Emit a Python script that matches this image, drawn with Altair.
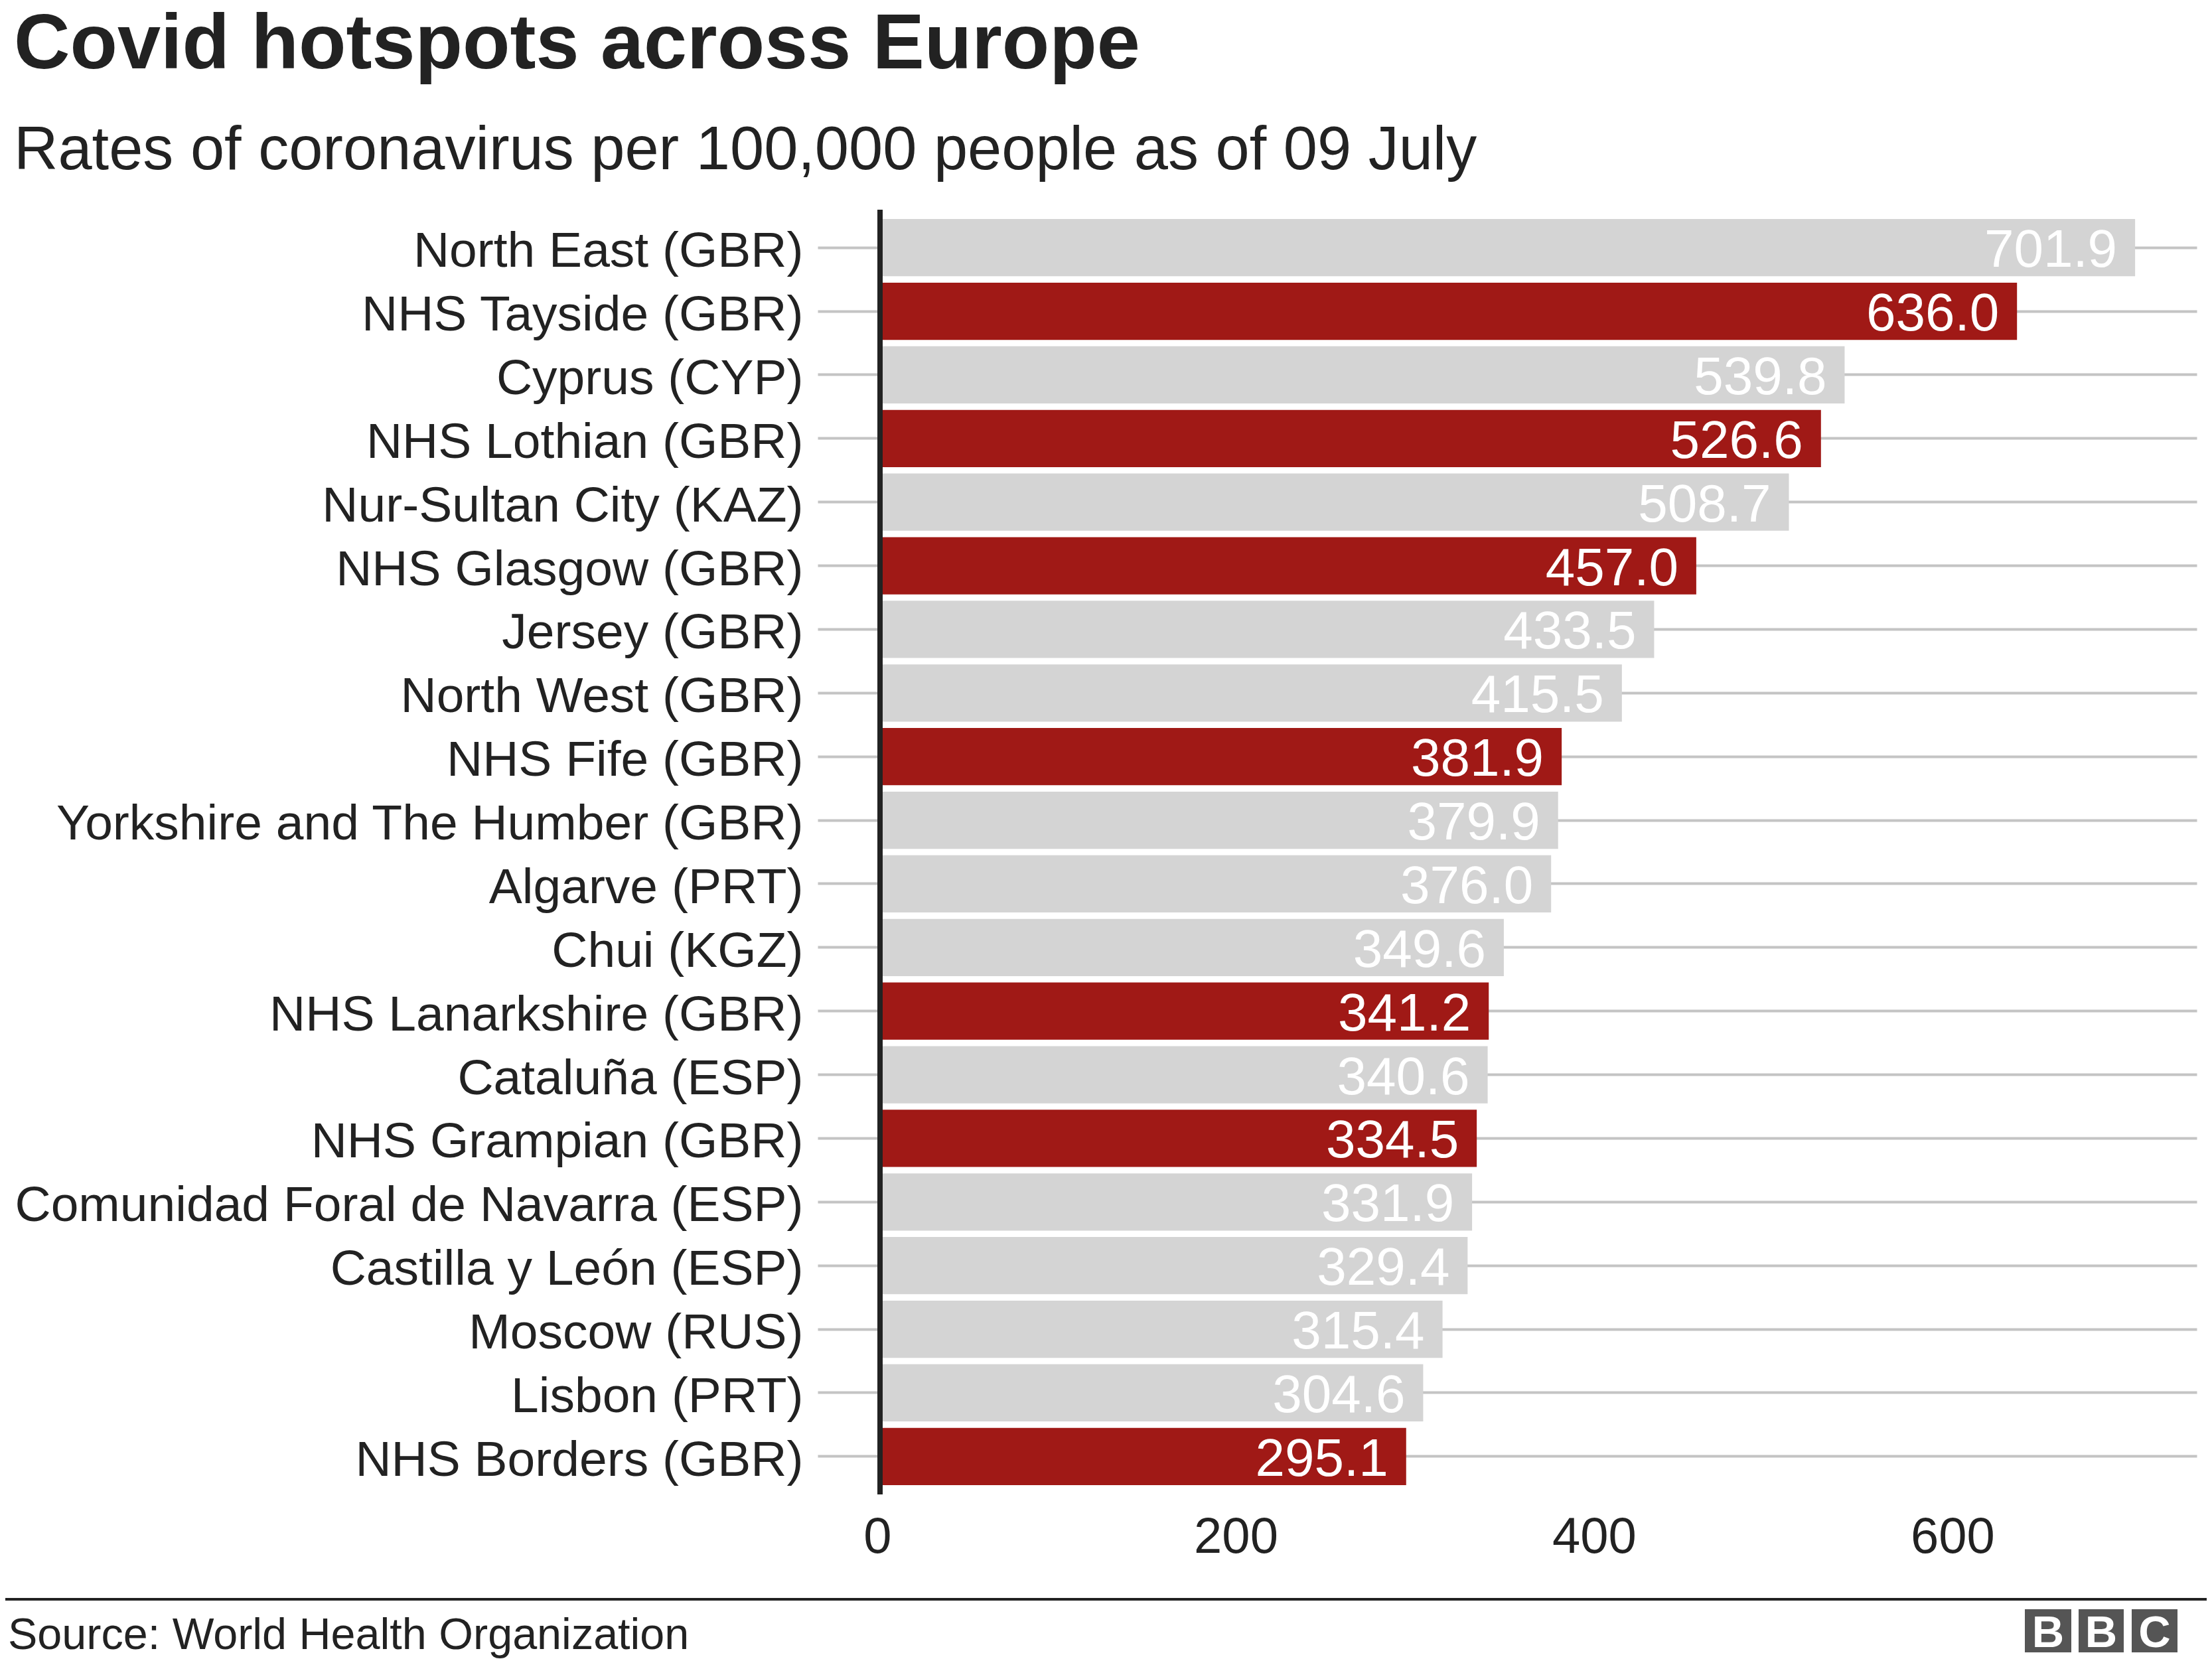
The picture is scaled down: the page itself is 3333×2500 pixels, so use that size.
import altair as alt
import pandas as pd

# ---- data ----
regions = [
    "North East (GBR)",
    "NHS Tayside (GBR)",
    "Cyprus (CYP)",
    "NHS Lothian (GBR)",
    "Nur-Sultan City (KAZ)",
    "NHS Glasgow (GBR)",
    "Jersey (GBR)",
    "North West (GBR)",
    "NHS Fife (GBR)",
    "Yorkshire and The Humber (GBR)",
    "Algarve (PRT)",
    "Chui (KGZ)",
    "NHS Lanarkshire (GBR)",
    "Cataluña (ESP)",
    "NHS Grampian (GBR)",
    "Comunidad Foral de Navarra (ESP)",
    "Castilla y León (ESP)",
    "Moscow (RUS)",
    "Lisbon (PRT)",
    "NHS Borders (GBR)",
]
rates = [701.9, 636.0, 539.8, 526.6, 508.7, 457.0, 433.5, 415.5, 381.9, 379.9,
         376.0, 349.6, 341.2, 340.6, 334.5, 331.9, 329.4, 315.4, 304.6, 295.1]
scottish = [
    "NHS Tayside (GBR)", "NHS Lothian (GBR)", "NHS Glasgow (GBR)", "NHS Fife (GBR)",
    "NHS Lanarkshire (GBR)", "NHS Grampian (GBR)", "NHS Borders (GBR)",
]
x_ticks = [0, 200, 400, 600]

df = pd.DataFrame({"region": regions, "rate": rates})
df["group"] = ["Scotland" if r in scottish else "Other" for r in regions]
df["label"] = [f"{v:.1f}" for v in rates]
df["zero"] = 0

FONT = "Liberation Sans"
TXT = "#222222"
W, H = 1988, 1936

y_axis = alt.Axis(
    domain=False, grid=True, gridColor="#c4c4c4", gridWidth=4,
    ticks=True, tickSize=90, tickColor="#c4c4c4", tickWidth=4,
    bandPosition=0.5,
    labelFont=FONT, labelFontSize=75, labelColor=TXT, labelPadding=22,
    labelBaseline="alphabetic", labelOffset=29, labelLimit=0,
)
y_scale = alt.Scale(paddingInner=0.1, paddingOuter=0.146)
x_scale = alt.Scale(domain=[0, 736.3], nice=False, zero=True)
x_axis = alt.Axis(
    values=x_ticks, grid=False, domain=False, ticks=False, tickSize=0,
    labelFont=FONT, labelFontSize=76, labelColor=TXT, labelPadding=27,
    labelFlush=False, labelBaseline="top",
)

def X(field):
    return alt.X(field, title=None, scale=x_scale, axis=x_axis)

def Y():
    return alt.Y("region:N", sort=regions, title=None, scale=y_scale, axis=y_axis)

base = alt.Chart(df)
bars = base.mark_bar().encode(
    x=X("rate:Q"),
    y=Y(),
    color=alt.Color("group:N", legend=None,
                    scale=alt.Scale(domain=["Scotland", "Other"], range=["#a01916", "#d4d4d4"])),
)
values = base.mark_text(
    align="right", baseline="alphabetic", dx=-27, dy=29,
    font=FONT, fontSize=80, color="white",
).encode(x=X("rate:Q"), y=Y(), text="label:N")

zero_rule = base.mark_rule(color=TXT, strokeWidth=8, xOffset=4).encode(
    x=X("min(zero):Q"),
    y=alt.value(0), y2=alt.value(H),
)

dummy = pd.DataFrame({"a": [0]})
separator = alt.Chart(dummy).mark_rule(color=TXT, strokeWidth=4).encode(
    x=alt.value(-1322), x2=alt.value(2011), y=alt.value(2094),
)
source = alt.Chart(dummy).mark_text(
    align="left", baseline="alphabetic", font=FONT, fontSize=66.5, color=TXT,
    text="Source: World Health Organization",
).encode(x=alt.value(-1310), y=alt.value(2169))

logo_layers = []
for letter, x0, x1 in [("B", 1729, 1799), ("B", 1810, 1878), ("C", 1890, 1959)]:
    logo_layers.append(
        alt.Chart(dummy).mark_rect(color="#555555").encode(
            x=alt.value(x0), x2=alt.value(x1), y=alt.value(2109), y2=alt.value(2174)
        )
    )
    logo_layers.append(
        alt.Chart(dummy).mark_text(
            align="center", baseline="alphabetic", font=FONT, fontSize=67,
            fontWeight="bold", color="white", text=letter,
        ).encode(x=alt.value((x0 + x1) / 2), y=alt.value(2166))
    )

chart = alt.layer(bars, values, zero_rule, separator, source, *logo_layers).properties(
    width=W, height=H,
    padding={"left": 1314, "top": 308, "right": 15, "bottom": 250},
    autosize=alt.AutoSizeParams(type="none"),
    background="white",
    title=alt.TitleParams(
        text="Covid hotspots across Europe",
        subtitle="Rates of coronavirus per 100,000 people as of 09 July",
        anchor="start", frame="group", dx=-1301, offset=37,
        font=FONT, fontSize=117, fontWeight="bold", color=TXT,
        subtitleFont=FONT, subtitleFontSize=92, subtitleColor=TXT,
        subtitlePadding=54,
    ),
).configure_view(stroke=None)

chart.save("out.html", embed_options={"renderer": "svg", "actions": False})
